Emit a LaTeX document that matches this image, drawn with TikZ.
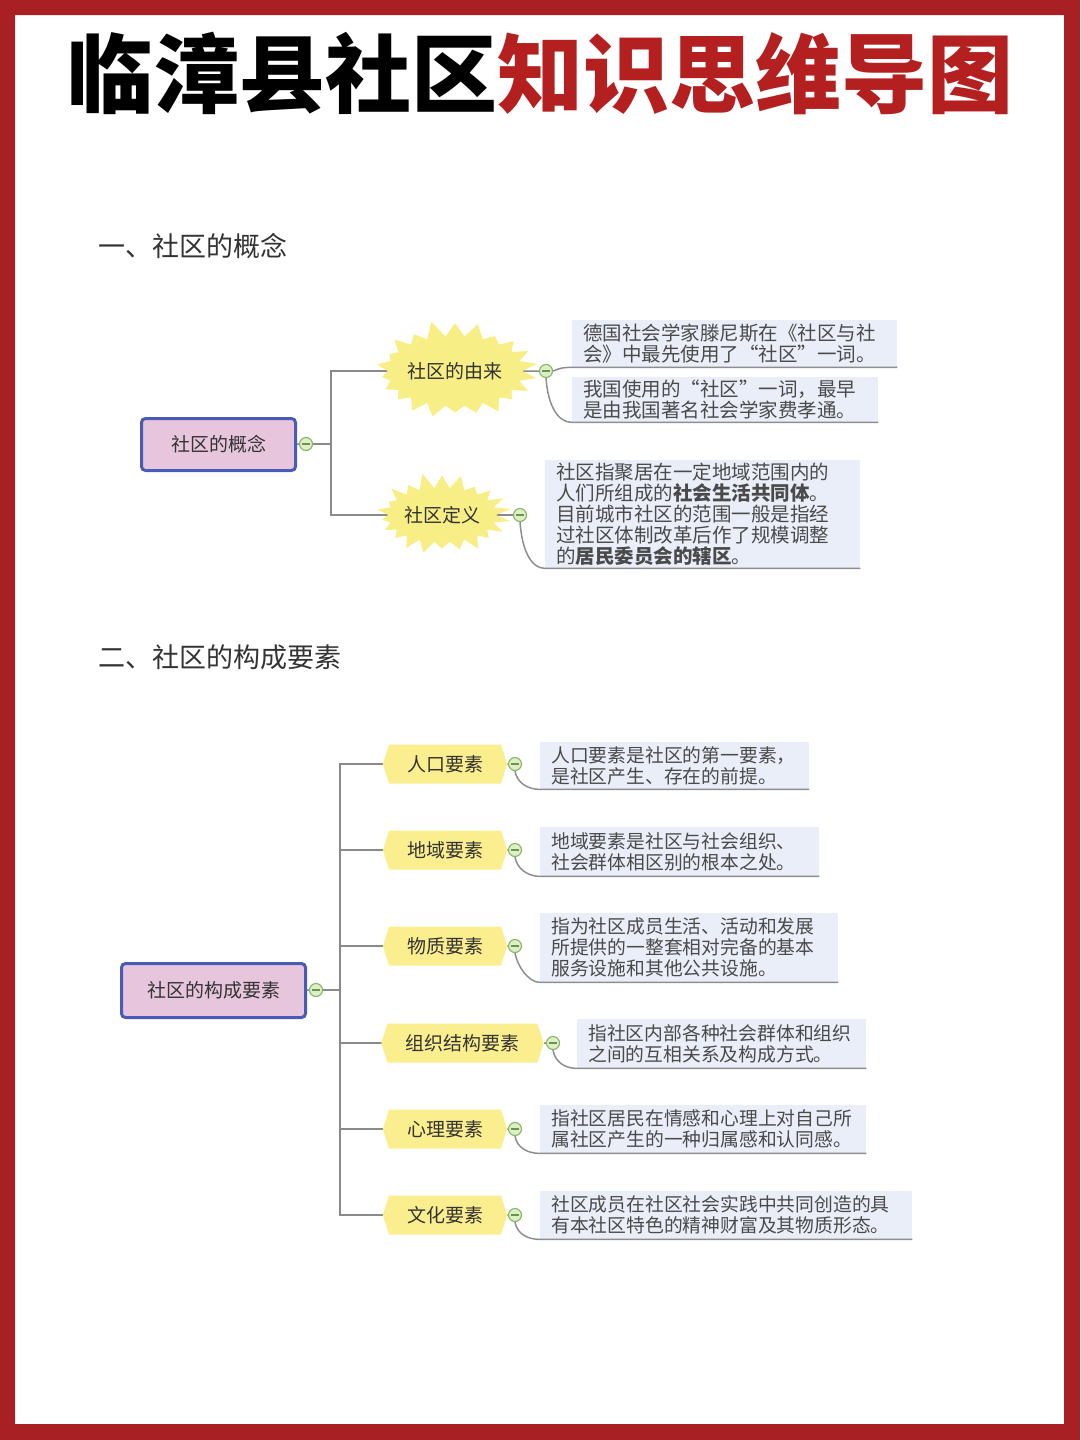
\documentclass[tikz,border=0pt]{standalone}
\usepackage{fontspec}
\setmainfont{Noto Sans CJK SC}
\usetikzlibrary{shapes.symbols,backgrounds}
\definecolor{framered}{HTML}{A82024}
\definecolor{titlered}{HTML}{B3201F}
\definecolor{rootfill}{HTML}{E7C6DD}
\definecolor{rootdraw}{HTML}{4A5BB5}
\definecolor{sunyel}{HTML}{F8EE86}
\definecolor{hexyel}{HTML}{FAEE8E}
\definecolor{notebg}{HTML}{E9EEF8}
\definecolor{notedraw}{HTML}{8E8E8E}
\definecolor{connc}{HTML}{8A8A8A}
\definecolor{togfill}{HTML}{DCEFC6}
\definecolor{togdraw}{HTML}{86B663}
\definecolor{txt}{HTML}{333333}
\definecolor{notetxt}{HTML}{4A4A4A}
\begin{document}
\begin{tikzpicture}[x=1pt,y=-1pt,
  rootbox/.style={draw=rootdraw, line width=3pt, fill=rootfill, rounded corners=4pt, text=txt, font=\fontsize{19}{21}\selectfont},
  sun/.style={starburst, starburst points=22, starburst point height=17pt, random starburst=11, fill=sunyel, text=txt, inner sep=0pt, font=\fontsize{19}{21}\selectfont},
  hexbox/.style={signal, signal to=east and west, signal pointer angle=145, fill=hexyel, minimum height=39pt, inner xsep=18pt, inner ysep=0pt, text=txt, font=\fontsize{19}{21}\selectfont},
  note/.style={fill=notebg, anchor=north west, align=left, inner xsep=11pt, inner ysep=0pt, text=notetxt},
  notea/.style={note, font=\fontsize{19.5}{21}\selectfont},
  noteb/.style={note, font=\fontsize{18.8}{21}\selectfont},
  tog/.style={circle, draw=togdraw, fill=togfill, line width=1.1pt, minimum size=13pt, inner sep=0pt,
    path picture={\draw[togdraw!80!black, line width=1.2pt] ([xshift=2.5pt]path picture bounding box.west) -- ([xshift=-2.5pt]path picture bounding box.east);}},
  conn/.style={draw=connc, line width=1.5pt},
  uline/.style={draw=notedraw, line width=1.5pt},
  head/.style={anchor=base west, text=txt, font=\fontsize{27}{30}\selectfont},
]
\useasboundingbox (0,0) rectangle (1080,1440);
\fill[framered, even odd rule] (0,0) rectangle (1080,1440) (15,15) rectangle (1064,1424);

% title
\node[anchor=base, font=\fontsize{86}{90}\selectfont\bfseries, inner sep=0pt] (title) at (540,106) {临漳县社区\textcolor{titlered}{知识思维导图}};

% headings
\node[head] (hd1) at (95,256) {一、社区的概念};
\node[head] (hd2) at (95,667) {二、社区的构成要素};

% ---------- section 1 ----------
\node[rootbox, minimum width=154pt, minimum height=52pt] (r1) at (218.5,444.5) {社区的概念};
\node[tog] (t1) at (306,444) {};
\coordinate (j1) at (331,444);
\node[sun, minimum width=158pt, minimum height=104pt] (s1) at (455,371) {社区的由来};
\node[sun, minimum width=134pt, minimum height=88pt] (s2) at (442,515) {社区定义};
\node[tog] (t11) at (546,371) {};
\node[tog] (t12) at (520,515) {};

\node[notea, text width=303pt, minimum height=47pt] (n11) at (572,320) {德国社会学家滕尼斯在《社区与社\\会》中最先使用了“社区”一词。};
\node[notea, text width=284pt, minimum height=45pt] (n12) at (572,377) {我国使用的“社区”一词，最早\\是由我国著名社会学家费孝通。};
\node[notea, text width=293pt, minimum height=108pt] (n13) at (545,460) {社区指聚居在一定地域范围内的\\人们所组成的{\bfseries 社会生活共同体}。\\目前城市社区的范围一般是指经\\过社区体制改革后作了规模调整\\的{\bfseries 居民委员会的辖区}。};

\begin{pgfonlayer}{background}
\draw[conn] (r1) -- (t1);
\draw[conn] (t1) -- (j1);
\draw[conn] (j1) |- (s1.center);
\draw[conn] (j1) |- (s2.center);
\draw[conn] (s1) -- (t11);
\draw[conn] (s2) -- (t12);
\end{pgfonlayer}
\draw[uline] (t11.east) .. controls +(8,-3) and +(-10,0) .. (n11.south west) -- (n11.south east);
\draw[uline] (t11.south) .. controls +(2,28) and +(-14,0) .. (n12.south west) -- (n12.south east);
\draw[uline] (t12.south) .. controls +(2,28) and +(-14,0) .. (n13.south west) -- (n13.south east);

% ---------- section 2 ----------
\node[rootbox, minimum width=184pt, minimum height=54pt] (r2) at (213.5,990.5) {社区的构成要素};
\node[tog] (t2) at (316,990) {};
\coordinate (j2) at (340,990);

\node[hexbox] (h1) at (445,764) {人口要素};
\node[hexbox] (h2) at (445,850) {地域要素};
\node[hexbox] (h3) at (445,946) {物质要素};
\node[hexbox] (h4) at (462.5,1043) {组织结构要素};
\node[hexbox] (h5) at (445,1129) {心理要素};
\node[hexbox] (h6) at (445,1215) {文化要素};

\node[tog] (t21) at (515,764) {};
\node[tog] (t22) at (515,850) {};
\node[tog] (t23) at (515,946) {};
\node[tog] (t24) at (553,1043) {};
\node[tog] (t25) at (515,1129) {};
\node[tog] (t26) at (515,1215) {};

\node[noteb, text width=247pt, minimum height=47pt] (n21) at (540,742) {人口要素是社区的第一要素，\\是社区产生、存在的前提。};
\node[noteb, text width=257pt, minimum height=49pt] (n22) at (540,827) {地域要素是社区与社会组织、\\社会群体相区别的根本之处。};
\node[noteb, text width=276pt, minimum height=69pt] (n23) at (540,913) {指为社区成员生活、活动和发展\\所提供的一整套相对完备的基本\\服务设施和其他公共设施。};
\node[noteb, text width=267pt, minimum height=49pt] (n24) at (577,1019) {指社区内部各种社会群体和组织\\之间的互相关系及构成方式。};
\node[noteb, text width=304pt, minimum height=48pt] (n25) at (540,1105) {指社区居民在情感和心理上对自己所\\属社区产生的一种归属感和认同感。};
\node[noteb, text width=350pt, minimum height=48pt] (n26) at (540,1191) {社区成员在社区社会实践中共同创造的具\\有本社区特色的精神财富及其物质形态。};

\begin{pgfonlayer}{background}
\draw[conn] (r2) -- (t2);
\draw[conn] (t2) -- (j2);
\foreach \h in {h1,h2,h3,h4,h5,h6} {\draw[conn] (j2) |- (\h.center);}
\draw[conn] (h1) -- (t21);
\draw[conn] (h2) -- (t22);
\draw[conn] (h3) -- (t23);
\draw[conn] (h4) -- (t24);
\draw[conn] (h5) -- (t25);
\draw[conn] (h6) -- (t26);
\end{pgfonlayer}
\foreach \i in {1,...,6} {
  \draw[uline] (t2\i.south) .. controls +(2,12) and +(-12,0) .. (n2\i.south west) -- (n2\i.south east);
}
\end{tikzpicture}
\end{document}
